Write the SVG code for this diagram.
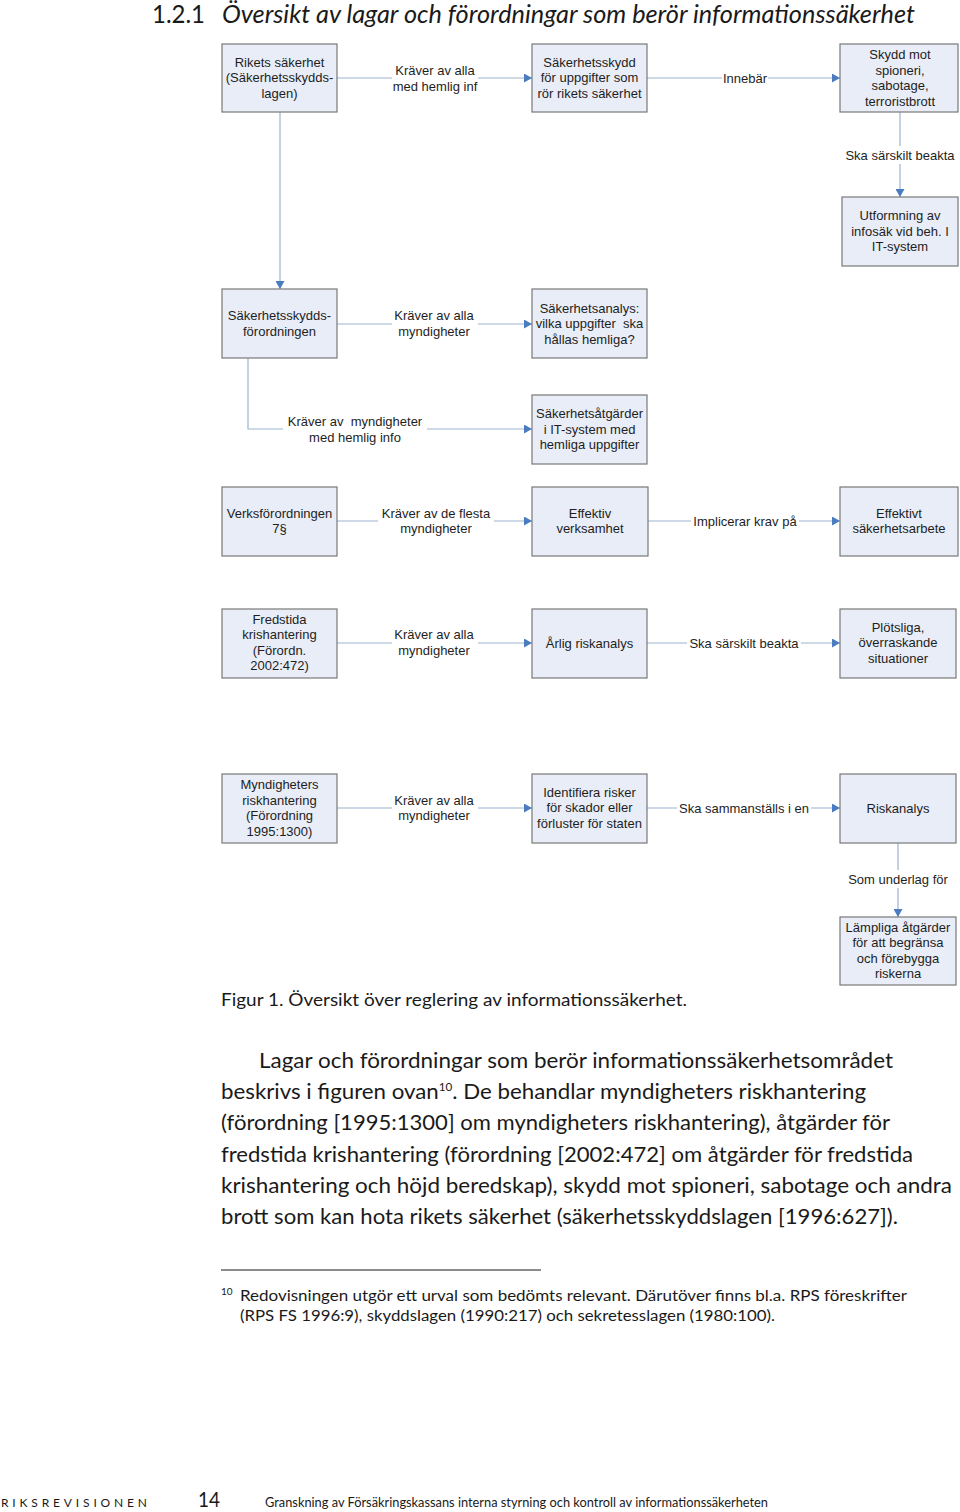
<svg xmlns="http://www.w3.org/2000/svg" width="960" height="1512" viewBox="0 0 960 1512">
<style>
.box{fill:#e8edf7;stroke:#787878;stroke-width:1.2}
.bt{font-family:"Liberation Sans",Arial,sans-serif;font-size:13px;fill:#1e1e1e;text-anchor:middle}
.pre{white-space:pre}
.con{fill:none;stroke:#9db3cf;stroke-width:1.2}
.lbg{fill:#ffffff}
.gs{font-family:Lato,"Open Sans",sans-serif;fill:#1a1a1a}
</style>
<defs>
<marker id="ah" markerWidth="8" markerHeight="9" refX="8" refY="4.5" orient="auto" markerUnits="userSpaceOnUse">
<path d="M0,0 L8,4.5 L0,9 z" fill="#4a7cbf"/>
</marker>
</defs>
<rect width="960" height="1512" fill="#ffffff"/>

<text class="gs" x="152" y="23" font-size="25" textLength="53" lengthAdjust="spacingAndGlyphs">1.2.1</text>
<text class="gs" x="222" y="23" font-size="26" font-style="italic" textLength="693" lengthAdjust="spacingAndGlyphs">Översikt av lagar och förordningar som berör informationssäkerhet</text>

<g id="connectors">
<path class="con" d="M337,78 H532" marker-end="url(#ah)"/>
<path class="con" d="M647,78 H840" marker-end="url(#ah)"/>
<path class="con" d="M900,112 V197" marker-end="url(#ah)"/>
<path class="con" d="M280,112 V289" marker-end="url(#ah)"/>
<path class="con" d="M337,324 H532" marker-end="url(#ah)"/>
<path class="con" d="M248,358 V429 H532" marker-end="url(#ah)"/>
<path class="con" d="M337,521 H532" marker-end="url(#ah)"/>
<path class="con" d="M648,521 H840" marker-end="url(#ah)"/>
<path class="con" d="M337,643 H532" marker-end="url(#ah)"/>
<path class="con" d="M647,643 H840" marker-end="url(#ah)"/>
<path class="con" d="M337,808 H532" marker-end="url(#ah)"/>
<path class="con" d="M647,808 H840" marker-end="url(#ah)"/>
<path class="con" d="M898,843 V917" marker-end="url(#ah)"/>
<rect class="lbg" x="392" y="60" width="86" height="34"/>
<text class="bt" x="435"><tspan x="435" y="75">Kräver av alla</tspan><tspan x="435" y="91">med hemlig inf</tspan></text>
<rect class="lbg" x="722" y="70" width="46" height="16"/>
<text class="bt" x="745" y="82.5">Innebär</text>
<rect class="lbg" x="845" y="146" width="110" height="18"/>
<text class="bt" x="900" y="159.5">Ska särskilt beakta</text>
<rect class="lbg" x="392" y="306" width="86" height="34"/>
<text class="bt"><tspan x="434" y="320">Kräver av alla</tspan><tspan x="434" y="336">myndigheter</tspan></text>
<rect class="lbg" x="283" y="411" width="144" height="34"/>
<text class="bt pre" xml:space="preserve"><tspan x="355" y="425.5">Kräver av  myndigheter</tspan><tspan x="355" y="441.5">med hemlig info</tspan></text>
<rect class="lbg" x="378" y="503" width="116" height="34"/>
<text class="bt"><tspan x="436" y="517.5">Kräver av de flesta</tspan><tspan x="436" y="533">myndigheter</tspan></text>
<rect class="lbg" x="691" y="513" width="108" height="16"/>
<text class="bt" x="745" y="525.5">Implicerar krav på</text>
<rect class="lbg" x="392" y="625" width="86" height="34"/>
<text class="bt"><tspan x="434" y="639">Kräver av alla</tspan><tspan x="434" y="655">myndigheter</tspan></text>
<rect class="lbg" x="687" y="635" width="114" height="16"/>
<text class="bt" x="744" y="647.5">Ska särskilt beakta</text>
<rect class="lbg" x="392" y="790" width="86" height="34"/>
<text class="bt"><tspan x="434" y="804.5">Kräver av alla</tspan><tspan x="434" y="820">myndigheter</tspan></text>
<rect class="lbg" x="677" y="800" width="134" height="16"/>
<text class="bt" x="744" y="812.5">Ska sammanställs i en</text>
<rect class="lbg" x="846" y="870" width="104" height="18"/>
<text class="bt" x="898" y="883.5">Som underlag för</text>
</g>

<g id="n1"><rect class="box" x="222" y="44" width="115" height="68"/>
<text class="bt"><tspan x="279.5" y="66.5">Rikets säkerhet</tspan><tspan x="279.5" y="82">(Säkerhetsskydds-</tspan><tspan x="279.5" y="97.5">lagen)</tspan></text></g>
<g id="n2"><rect class="box" x="532" y="44" width="115" height="68"/>
<text class="bt"><tspan x="589.5" y="66.5">Säkerhetsskydd</tspan><tspan x="589.5" y="82">för uppgifter som</tspan><tspan x="589.5" y="97.5">rör rikets säkerhet</tspan></text></g>
<g id="n3"><rect class="box" x="840" y="44" width="118" height="68"/>
<text class="bt"><tspan x="900" y="59">Skydd mot</tspan><tspan x="900" y="74.5">spioneri,</tspan><tspan x="900" y="90">sabotage,</tspan><tspan x="900" y="105.5">terroristbrott</tspan></text></g>
<g id="n4"><rect class="box" x="842" y="197" width="116" height="69"/>
<text class="bt"><tspan x="900" y="220">Utformning av</tspan><tspan x="900" y="235.5">infosäk vid beh. I</tspan><tspan x="900" y="251">IT-system</tspan></text></g>
<g id="n5"><rect class="box" x="222" y="289" width="115" height="69"/>
<text class="bt"><tspan x="279.5" y="320">Säkerhetsskydds-</tspan><tspan x="279.5" y="335.5">förordningen</tspan></text></g>
<g id="n6"><rect class="box" x="532" y="289" width="115" height="69"/>
<text class="bt pre" xml:space="preserve"><tspan x="589.5" y="312.5">Säkerhetsanalys:</tspan><tspan x="589.5" y="328">vilka uppgifter  ska</tspan><tspan x="589.5" y="343.5">hållas hemliga?</tspan></text></g>
<g id="n7"><rect class="box" x="532" y="395" width="115" height="69"/>
<text class="bt"><tspan x="589.5" y="418">Säkerhetsåtgärder</tspan><tspan x="589.5" y="433.5">i IT-system med</tspan><tspan x="589.5" y="449">hemliga uppgifter</tspan></text></g>
<g id="n8"><rect class="box" x="222" y="487" width="115" height="69"/>
<text class="bt"><tspan x="279.5" y="517.5">Verksförordningen</tspan><tspan x="279.5" y="533">7§</tspan></text></g>
<g id="n9"><rect class="box" x="532" y="487" width="116" height="69"/>
<text class="bt"><tspan x="590" y="517.5">Effektiv</tspan><tspan x="590" y="533">verksamhet</tspan></text></g>
<g id="n10"><rect class="box" x="840" y="487" width="118" height="69"/>
<text class="bt"><tspan x="899" y="517.5">Effektivt</tspan><tspan x="899" y="533">säkerhetsarbete</tspan></text></g>
<g id="n11"><rect class="box" x="222" y="609" width="115" height="69"/>
<text class="bt"><tspan x="279.5" y="623.5">Fredstida</tspan><tspan x="279.5" y="639">krishantering</tspan><tspan x="279.5" y="654.5">(Förordn.</tspan><tspan x="279.5" y="670">2002:472)</tspan></text></g>
<g id="n12"><rect class="box" x="532" y="609" width="115" height="69"/>
<text class="bt" x="589.5" y="647.5">Årlig riskanalys</text></g>
<g id="n13"><rect class="box" x="840" y="609" width="116" height="69"/>
<text class="bt"><tspan x="898" y="631.5">Plötsliga,</tspan><tspan x="898" y="647">överraskande</tspan><tspan x="898" y="662.5">situationer</tspan></text></g>
<g id="n14"><rect class="box" x="222" y="774" width="115" height="69"/>
<text class="bt"><tspan x="279.5" y="789">Myndigheters</tspan><tspan x="279.5" y="804.5">riskhantering</tspan><tspan x="279.5" y="820">(Förordning</tspan><tspan x="279.5" y="835.5">1995:1300)</tspan></text></g>
<g id="n15"><rect class="box" x="532" y="774" width="115" height="69"/>
<text class="bt"><tspan x="589.5" y="796.5">Identifiera risker</tspan><tspan x="589.5" y="812">för skador eller</tspan><tspan x="589.5" y="827.5">förluster för staten</tspan></text></g>
<g id="n16"><rect class="box" x="840" y="774" width="116" height="69"/>
<text class="bt" x="898" y="812.5">Riskanalys</text></g>
<g id="n17"><rect class="box" x="840" y="917" width="116" height="68"/>
<text class="bt"><tspan x="898" y="931.5">Lämpliga åtgärder</tspan><tspan x="898" y="947">för att begränsa</tspan><tspan x="898" y="962.5">och förebygga</tspan><tspan x="898" y="978">riskerna</tspan></text></g>

<text class="gs" x="221" y="1006" font-size="18" textLength="466" lengthAdjust="spacingAndGlyphs">Figur 1. Översikt över reglering av informationssäkerhet.</text>

<g class="gs" font-size="21">
<text x="259" y="1068" textLength="634" lengthAdjust="spacingAndGlyphs">Lagar och förordningar som berör informationssäkerhetsområdet</text>
<text x="221" y="1099" textLength="645" lengthAdjust="spacingAndGlyphs">beskrivs i figuren ovan<tspan font-size="11" dy="-8">10</tspan><tspan dy="8">. De behandlar myndigheters riskhantering</tspan></text>
<text x="221" y="1130" textLength="669" lengthAdjust="spacingAndGlyphs">(förordning [1995:1300] om myndigheters riskhantering), åtgärder för</text>
<text x="221" y="1162" textLength="692" lengthAdjust="spacingAndGlyphs">fredstida krishantering (förordning [2002:472] om åtgärder för fredstida</text>
<text x="221" y="1193" textLength="731" lengthAdjust="spacingAndGlyphs">krishantering och höjd beredskap), skydd mot spioneri, sabotage och andra</text>
<text x="221" y="1224" textLength="677" lengthAdjust="spacingAndGlyphs">brott som kan hota rikets säkerhet (säkerhetsskyddslagen [1996:627]).</text>
</g>

<line x1="221" y1="1270" x2="541" y2="1270" stroke="#1a1a1a" stroke-width="1.2"/>
<g class="gs" font-size="15.5">
<text x="221" y="1295" font-size="10">10</text>
<text x="240" y="1301" textLength="667" lengthAdjust="spacingAndGlyphs">Redovisningen utgör ett urval som bedömts relevant. Därutöver finns bl.a. RPS föreskrifter</text>
<text x="240" y="1321" textLength="535" lengthAdjust="spacingAndGlyphs">(RPS FS 1996:9), skyddslagen (1990:217) och sekretesslagen (1980:100).</text>
</g>

<text class="gs" x="1" y="1507" font-size="12" textLength="149" lengthAdjust="spacing" letter-spacing="3">RIKSREVISIONEN</text>
<text class="gs" x="198" y="1507" font-size="21" textLength="22" lengthAdjust="spacingAndGlyphs">14</text>
<text class="gs" x="265" y="1507" font-size="13" textLength="503" lengthAdjust="spacingAndGlyphs">Granskning av Försäkringskassans interna styrning och kontroll av informationssäkerheten</text>
</svg>
